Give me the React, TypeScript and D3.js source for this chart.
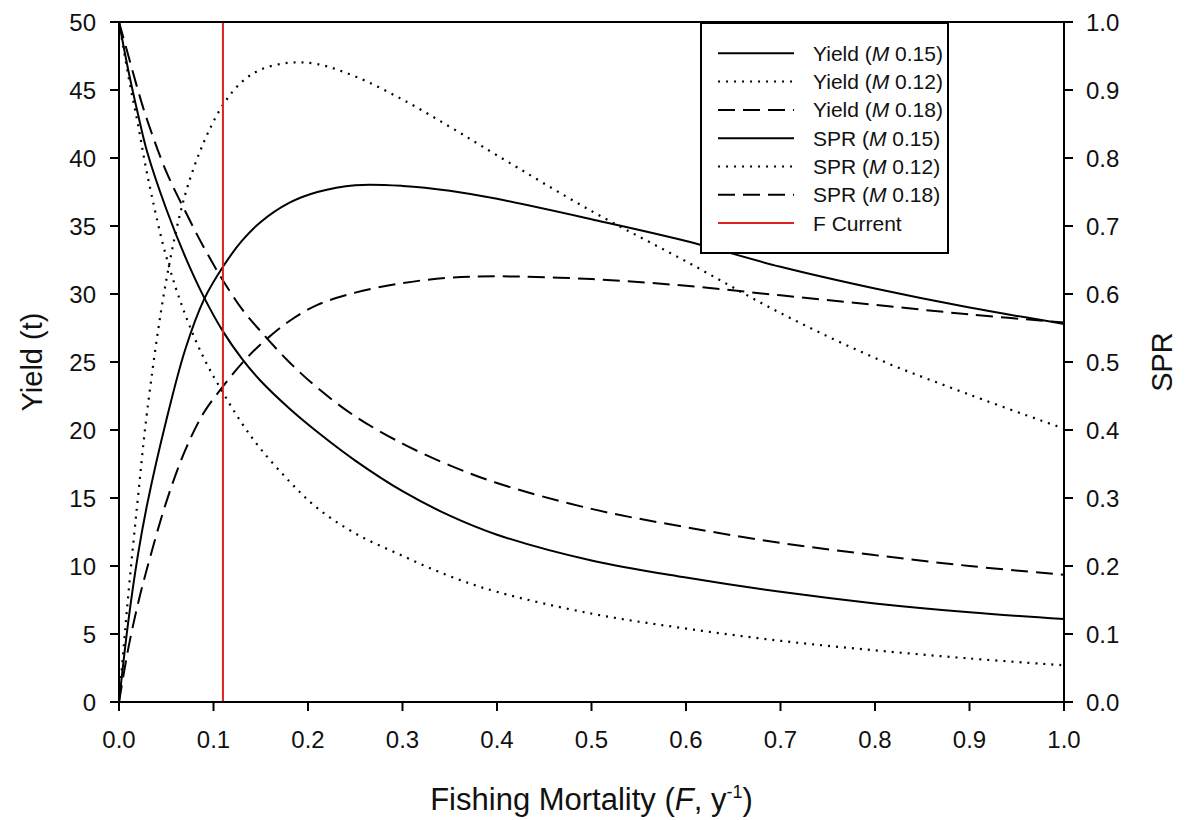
import React from "react";
import * as d3 from "d3";

// Fishing mortality grid (F, y^-1)
const fValues = [0, 0.01, 0.02, 0.03, 0.05, 0.07, 0.09, 0.11, 0.13, 0.15, 0.18, 0.21, 0.25, 0.3, 0.35, 0.4, 0.5, 0.6, 0.7, 0.8, 0.9, 1.0];

// Yield (t)
const yieldM015 = [0, 6, 10.8, 14.6, 20.7, 25.9, 29.6, 32.0, 33.9, 35.3, 36.7, 37.5, 38.0, 37.95, 37.6, 37.0, 35.5, 33.9, 32.0, 30.4, 29.0, 27.8];
const yieldM012 = [0, 8, 15, 21.5, 31, 37.3, 41.2, 43.9, 45.6, 46.5, 47.0, 46.9, 46.0, 44.3, 42.3, 40.2, 36.1, 32.4, 28.6, 25.3, 22.6, 20.1];
const yieldM018 = [0, 4.0, 7.2, 9.9, 14.7, 18.5, 21.3, 23.2, 24.9, 26.3, 28.0, 29.2, 30.1, 30.8, 31.2, 31.3, 31.1, 30.6, 29.9, 29.2, 28.5, 27.9];

// SPR
const sprM015 = [1.0, 0.928, 0.865, 0.808, 0.725, 0.655, 0.595, 0.545, 0.505, 0.472, 0.432, 0.397, 0.355, 0.31, 0.274, 0.246, 0.208, 0.183, 0.162, 0.145, 0.132, 0.122];
const sprM012 = [1.0, 0.92, 0.85, 0.775, 0.655, 0.57, 0.505, 0.455, 0.41, 0.372, 0.325, 0.285, 0.248, 0.215, 0.185, 0.162, 0.13, 0.108, 0.09, 0.076, 0.064, 0.054];
const sprM018 = [1.0, 0.95, 0.9, 0.855, 0.78, 0.722, 0.668, 0.62, 0.578, 0.545, 0.5, 0.462, 0.42, 0.38, 0.348, 0.322, 0.284, 0.257, 0.234, 0.216, 0.2, 0.187];

const fCurrent = 0.11;

const xTicks = [0, 0.1, 0.2, 0.3, 0.4, 0.5, 0.6, 0.7, 0.8, 0.9, 1.0];
const yLeftTicks = [0, 5, 10, 15, 20, 25, 30, 35, 40, 45, 50];
const yRightTicks = [0, 0.1, 0.2, 0.3, 0.4, 0.5, 0.6, 0.7, 0.8, 0.9, 1.0];

const DASH = "17,8";
const DOT = "2,6";

type Series = { label: string; m: string; values: number[]; axis: "left" | "right"; dash: string | null };

const seriesList: Series[] = [
  { label: "Yield", m: "0.15", values: yieldM015, axis: "left", dash: null },
  { label: "Yield", m: "0.12", values: yieldM012, axis: "left", dash: DOT },
  { label: "Yield", m: "0.18", values: yieldM018, axis: "left", dash: DASH },
  { label: "SPR", m: "0.15", values: sprM015, axis: "right", dash: null },
  { label: "SPR", m: "0.12", values: sprM012, axis: "right", dash: DOT },
  { label: "SPR", m: "0.18", values: sprM018, axis: "right", dash: DASH },
];

const FONT = "'Liberation Sans', Arial, Helvetica, sans-serif";

export default function App() {
  const left = 119, right = 1064, top = 22, bottom = 702;
  const x = d3.scaleLinear().domain([0, 1]).range([left, right]);
  const yL = d3.scaleLinear().domain([0, 50]).range([bottom, top]);
  const yR = d3.scaleLinear().domain([0, 1]).range([bottom, top]);

  const makeLine = (scale: d3.ScaleLinear<number, number>) =>
    d3.line<number>()
      .x((_, i) => x(fValues[i]))
      .y((v) => scale(v))
      .curve(d3.curveCatmullRom.alpha(0.5));

  const legX = 701, legY = 23, legW = 247, legH = 230;
  const rowY0 = 53.3, rowStep = 28.3;

  return (
    <svg width={1186} height={820} style={{ position: "absolute", left: 0, top: 0, background: "#fff" }} fontFamily={FONT}>
      <rect x={0} y={0} width={1186} height={820} fill="#fff" />
      {/* curves */}
      {seriesList.map((s, i) => (
        <path
          key={i}
          d={makeLine(s.axis === "left" ? yL : yR)(s.values) || ""}
          fill="none"
          stroke="#000"
          strokeWidth={s.dash === DOT ? 2.2 : 2}
          strokeDasharray={s.dash || undefined}
        />
      ))}
      {/* F current */}
      <line x1={x(fCurrent)} x2={x(fCurrent)} y1={top} y2={bottom} stroke="#dd2222" strokeWidth={2} />

      {/* frame */}
      <rect x={left} y={top} width={right - left} height={bottom - top} fill="none" stroke="#000" strokeWidth={2} />

      {/* bottom axis */}
      {xTicks.map((t) => (
        <g key={"x" + t}>
          <line x1={x(t)} x2={x(t)} y1={bottom} y2={bottom + 9} stroke="#000" strokeWidth={2} />
          <text x={x(t)} y={748} textAnchor="middle" fontSize={24} fill="#111">{t.toFixed(1)}</text>
        </g>
      ))}
      {/* left axis */}
      {yLeftTicks.map((t) => (
        <g key={"yl" + t}>
          <line x1={left - 9} x2={left} y1={yL(t)} y2={yL(t)} stroke="#000" strokeWidth={2} />
          <text x={96} y={yL(t) + 8.5} textAnchor="end" fontSize={24} fill="#111">{t}</text>
        </g>
      ))}
      {/* right axis */}
      {yRightTicks.map((t) => (
        <g key={"yr" + t}>
          <line x1={right} x2={right + 9} y1={yR(t)} y2={yR(t)} stroke="#000" strokeWidth={2} />
          <text x={1086} y={yR(t) + 8.5} textAnchor="start" fontSize={24} fill="#111">{t.toFixed(1)}</text>
        </g>
      ))}

      {/* axis titles */}
      <text x={(left + right) / 2} y={810} textAnchor="middle" fontSize={31} fill="#111">
        Fishing Mortality (<tspan fontStyle="italic">F</tspan>, y<tspan dy={-12} fontSize={18}>-1</tspan><tspan dy={12}>)</tspan>
      </text>
      <text transform={`translate(42,${(top + bottom) / 2}) rotate(-90)`} textAnchor="middle" fontSize={29} fill="#111">
        Yield (t)
      </text>
      <text transform={`translate(1172,${(top + bottom) / 2}) rotate(-90)`} textAnchor="middle" fontSize={29} fill="#111">
        SPR
      </text>

      {/* legend */}
      <rect x={legX} y={legY} width={legW} height={legH} fill="#fff" stroke="#000" strokeWidth={2} />
      {seriesList.map((s, i) => {
        const yy = rowY0 + i * rowStep;
        return (
          <g key={"lg" + i}>
            <line x1={718} x2={794} y1={yy} y2={yy} stroke="#000" strokeWidth={2} strokeDasharray={s.dash || undefined} />
            <text x={813} y={yy + 7.5} fontSize={21} fill="#111">
              {s.label} (<tspan fontStyle="italic">M</tspan> {s.m})
            </text>
          </g>
        );
      })}
      <line x1={718} x2={794} y1={rowY0 + 6 * rowStep} y2={rowY0 + 6 * rowStep} stroke="#dd2222" strokeWidth={2} />
      <text x={813} y={rowY0 + 6 * rowStep + 7.5} fontSize={21} fill="#111">F Current</text>
    </svg>
  );
}
